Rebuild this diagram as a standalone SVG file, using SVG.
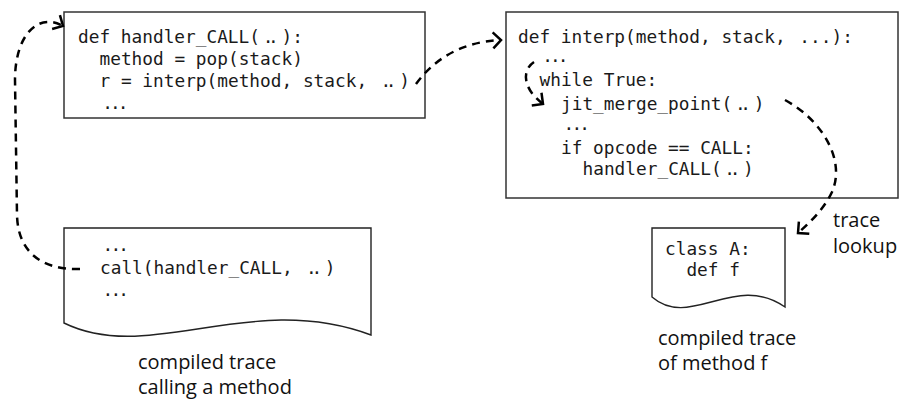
<svg xmlns="http://www.w3.org/2000/svg" width="900" height="401" viewBox="0 0 900 401">
<style>
.box{fill:#fff;stroke:#333;stroke-width:1.5}
.doc{fill:#fff;stroke:#222;stroke-width:1.4}
.code{font-family:"DejaVu Sans Mono","Liberation Mono",monospace;font-size:17.8px;fill:#1a1a1a}
.dots{letter-spacing:-2.9px}
.ld{letter-spacing:-5.4px}
.lbl{font-family:"Open Sans","Noto Sans",sans-serif;font-size:20px;fill:#111}
.conn{fill:none;stroke:#000;stroke-width:2.5;stroke-dasharray:8 6}
</style>
<defs>
<marker id="arr" markerUnits="userSpaceOnUse" markerWidth="24" markerHeight="24" viewBox="-12 -12 24 24" refX="0" refY="0" orient="auto">
<path d="M-8,-8 L0,0 L-8,8" fill="none" stroke="#000" stroke-width="2.5"/>
</marker>
</defs>
<rect width="900" height="401" fill="#fff"/>

<g id="handler">
<rect class="box" x="64" y="12" width="361" height="106"/>
<text class="code" x="78" y="43">def handler_CALL(<tspan class="ld" dx="2.7">..</tspan><tspan dx="8.1">):</tspan></text>
<text class="code" x="99.5" y="65">method = pop(stack)</text>
<text class="code" x="99.5" y="87">r = interp(method, stack, <tspan class="ld" dx="2.7">..</tspan><tspan dx="8.1">)</tspan></text>
<text class="code dots" x="102.2" y="109">...</text>
</g>

<g id="interp">
<rect class="box" x="506" y="12" width="392" height="186"/>
<text class="code" x="518" y="43">def interp(method, stack, <tspan dx="3">...</tspan><tspan>):</tspan></text>
<text class="code dots" x="542.2" y="62">...</text>
<text class="code" x="539.5" y="86">while True:</text>
<text class="code" x="561" y="110">jit_merge_point(<tspan class="ld" dx="2.7">..</tspan><tspan dx="8.1">)</tspan></text>
<text class="code dots" x="563.6" y="130">...</text>
<text class="code" x="561" y="154">if opcode == CALL:</text>
<text class="code" x="582.5" y="175">handler_CALL(<tspan class="ld" dx="2.7">..</tspan><tspan dx="8.1">)</tspan></text>
</g>

<g id="trace-call">
<path class="doc" d="M64,228 H371 V335 C250,290 150,365 64,323 Z"/>
<text class="code dots" x="102.6" y="251">...</text>
<text class="code" x="100" y="274">call(handler_CALL, <tspan class="ld" dx="2.7">..</tspan><tspan dx="8.1">)</tspan></text>
<text class="code dots" x="102.6" y="296">...</text>
<text class="lbl" x="138" y="368.5">compiled trace</text>
<text class="lbl" x="138" y="393.5">calling a method</text>
</g>

<g id="trace-f">
<path class="doc" d="M652,228 H785 V307 C735,272 690,330 652,297 Z"/>
<text class="code" x="665" y="255">class A:</text>
<text class="code" x="686.4" y="276">def f</text>
<text class="lbl" x="658" y="345">compiled trace</text>
<text class="lbl" x="658" y="370">of method f</text>
</g>

<g id="lookup-label">
<text class="lbl" x="833" y="227">trace</text>
<text class="lbl" x="833" y="253">lookup</text>
</g>

<g id="connectors">
<path class="conn" d="M80,269 C45,270 18,255 17,215 L15,80 C15,35 38,12 63,26" marker-end="url(#arr)"/>
<path class="conn" d="M416,84 C432,62 458,42 501,40" marker-end="url(#arr)"/>
<path class="conn" d="M534,62 C522,70 522,88 543,104" marker-end="url(#arr)"/>
<path class="conn" d="M785,100 C822,120 846,160 832,192 C825,207 812,221 798,233" marker-end="url(#arr)"/>
</g>
</svg>
